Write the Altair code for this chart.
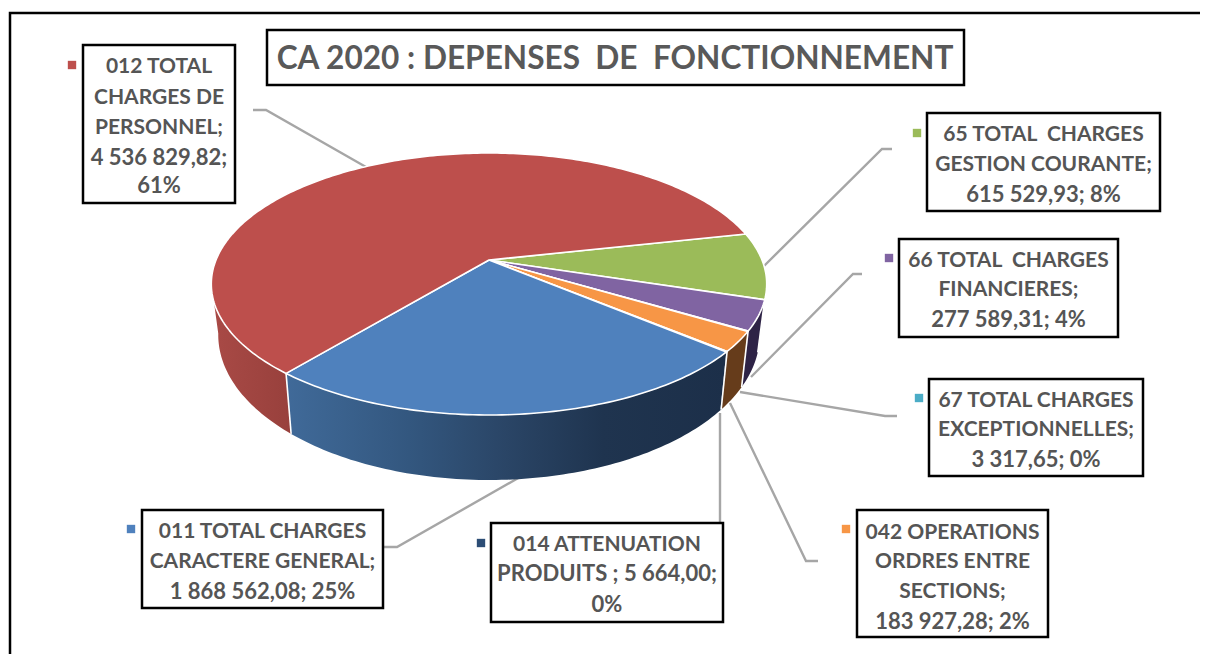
import math
import altair as alt
import pandas as pd

categories = ["65 TOTAL CHARGES GESTION COURANTE", "66 TOTAL CHARGES FINANCIERES",
              "67 TOTAL CHARGES EXCEPTIONNELLES", "042 OPERATIONS ORDRES ENTRE SECTIONS",
              "014 ATTENUATION PRODUITS", "011 TOTAL CHARGES CARACTERE GENERAL",
              "012 TOTAL CHARGES DE PERSONNEL"]
values = [615529.93, 277589.31, 3317.65, 183927.28, 5664.00, 1868562.08, 4536829.82]
top_colors = ["#9bbb59", "#8064a2", "#4bacc6", "#f79646", "#2c4d75", "#4f81bd", "#bd4f4c"]
side_colors = [None, "#2e2346", "#2c6a7d", "#663c1b", "#1c2f49", None, None]

label_lines = [
    ["65 TOTAL \u00a0CHARGES", "GESTION COURANTE;", "615 529,93; 8%"],
    ["66 TOTAL \u00a0CHARGES", "FINANCIERES;", "277 589,31; 4%"],
    ["67 TOTAL CHARGES", "EXCEPTIONNELLES;", "3 317,65; 0%"],
    ["042 OPERATIONS", "ORDRES ENTRE", "SECTIONS;", "183 927,28; 2%"],
    ["014 ATTENUATION", "PRODUITS ; 5 664,00;", "0%"],
    ["011 TOTAL CHARGES", "CARACTERE GENERAL;", "1 868 562,08; 25%"],
    ["012 TOTAL", "CHARGES DE", "PERSONNEL;", "4 536 829,82;", "61%"],
]
title_text = "CA 2020 : DEPENSES \u00a0DE \u00a0FONCTIONNEMENT"

# layout, in pixels of the picture
boxes = [(927, 113, 1160, 211), (899, 239, 1118, 337), (929, 379, 1143, 476),
         (857, 510, 1048, 637), (491, 523, 723, 622), (142, 510, 383, 608), (83, 45, 235, 203)]
line_y = [[135, 165, 195], [261, 290, 320], [401, 430, 460], [533, 562, 592, 622],
          [545, 574, 605], [532, 562, 592], [67, 98, 128, 158, 186]]
markers = [(917, 133), (889, 258), (919, 398), (846, 529), (481, 543), (131, 529), (72, 65)]
leaders = [[(892, 149), (882, 149), (763, 267)], [(862, 274), (853, 274), (751, 377)],
           [(897, 416), (885, 416), (740, 392)], [(818, 561), (806, 561), (730, 403)],
           [(720, 522), (720, 413)], [(384, 547), (397, 547), (520, 477)],
           [(253, 110), (266, 110), (366, 167)]]
title_box = (267, 30, 964, 85)

PX, PY, A, B, K = 489.0, 260.0, 273.0, 126.6, 0.1832
START = -12.3


def rim(deg):
    t = math.radians(deg)
    x, y = math.cos(t), math.sin(t)
    w = 1 - K * y
    return (PX + A * x / w, PY + B * y / w)


def floor(p):
    return (PX + 0.975 * (p[0] - PX), 480 + 1.108 * (p[1] - 415))


def feature(kind, coords, **props):
    return {"type": "Feature", "properties": props,
            "geometry": {"type": kind, "coordinates": coords}}


def steps(a, b):
    n = max(2, int(abs(b - a)) + 2)
    return [a + (b - a) * i / (n - 1) for i in range(n)]


def rect(b):
    x0, y0, x1, y1 = b
    return [[[x0, y0], [x1, y0], [x1, y1], [x0, y1], [x0, y0]]]


total = sum(values)
edges = [START]
for v in values:
    edges.append(edges[-1] + v / total * 360)

top_feats, flat_sides, seams, side_shapes = [], [], [], {}
for i, c in enumerate(categories):
    a, b = edges[i], edges[i + 1]
    pts = [rim(d) for d in steps(a, b)]
    ring = [[PX, PY]] + [list(p) for p in pts] + [[PX, PY]]
    top_feats.append(feature("Polygon", [ring], color=top_colors[i], name=c))
    if i == 0:
        continue
    sb = 170.0 if i == 6 else b
    pts = [rim(d) for d in steps(a, sb)]
    low = [floor(p) for p in pts]
    side = [list(p) for p in pts] + [list(p) for p in reversed(low)] + [list(pts[0])]
    side_shapes[i] = feature("Polygon", [side], color=side_colors[i] or "#000000", name=c)
    if side_colors[i]:
        flat_sides.append(side_shapes[i])
for d in (edges[1], edges[2], edges[4], edges[6]):
    p = rim(d)
    seams.append(feature("LineString", [list(p), list(floor(p))]))

PROJ = dict(type="identity", scale=1, translate=[-8, -8])


def geo(feats, **mark):
    return alt.Chart(alt.Data(values=feats)).mark_geoshape(**mark).project(**PROJ)


def grad(stops):
    return alt.LinearGradient(gradient="linear", x1=0, x2=1, y1=0, y2=0,
                              stops=[alt.GradientStop(color=c, offset=o) for o, c in stops])


layers = []
layers.append(geo([feature("LineString", [[1208, 13], [10, 13], [10, 654]])],
                  filled=False, stroke="#000000", strokeWidth=2.5))
layers.append(geo([feature("LineString", [list(q) for q in l]) for l in leaders],
                  filled=False, stroke="#a6a6a6", strokeWidth=2.4))
layers.append(geo([side_shapes[6]], fill=grad([(0, "#a94a46"), (1, "#98403c")]), stroke=None))
layers.append(geo([side_shapes[5]], fill=grad([(0, "#406a99"), (0.28, "#33577f"), (0.5, "#2a4566"),
                                               (0.72, "#1f344f"), (1, "#1c2f49")]), stroke=None))
layers.append(geo(flat_sides).encode(fill=alt.Fill("properties.color:N", scale=None)))
layers.append(geo(seams, filled=False, stroke="#ffffff", strokeWidth=1.6))
layers.append(geo(top_feats, stroke="#ffffff", strokeWidth=1.6, strokeJoin="round")
              .encode(fill=alt.Fill("properties.color:N", scale=None)))
layers.append(geo([feature("Polygon", rect(b)) for b in boxes + [title_box]],
                  fill="#ffffff", stroke="#000000", strokeWidth=2.5))

rows = []
for i, lines in enumerate(label_lines):
    cx = (boxes[i][0] + boxes[i][2]) / 2
    for t, y in zip(lines, line_y[i]):
        size = 22 if any(ch in t for ch in ",%") else 21
        rows.append({"text": t, "lon": cx, "lat": y, "size": size})
layers.append(alt.Chart(pd.DataFrame(rows)).mark_text(
    font="Lato", fontWeight="bold", color="#555555", align="center", baseline="middle"
).encode(longitude="lon:Q", latitude="lat:Q", text="text:N",
         size=alt.Size("size:Q", scale=None, legend=None)).project(**PROJ))

layers.append(alt.Chart(pd.DataFrame([{"text": title_text, "lon": 615, "lat": 60}])).mark_text(
    font="Lato", fontWeight="bold", fontSize=31.6, color="#595959", align="center", baseline="middle"
).encode(longitude="lon:Q", latitude="lat:Q", text="text:N").project(**PROJ))

mk = pd.DataFrame([{"lon": m[0], "lat": m[1], "color": top_colors[i]} for i, m in enumerate(markers)])
layers.append(alt.Chart(mk).mark_point(shape="square", filled=True, size=70, opacity=1).encode(
    longitude="lon:Q", latitude="lat:Q", fill=alt.Fill("color:N", scale=None),
    stroke=alt.value(None)).project(**PROJ))

chart = alt.layer(*layers).properties(
    width=1192, height=646, autosize="none", padding=0
).configure_view(stroke=None)

chart.save("out.html", embed_options={"renderer": "svg", "actions": False})
